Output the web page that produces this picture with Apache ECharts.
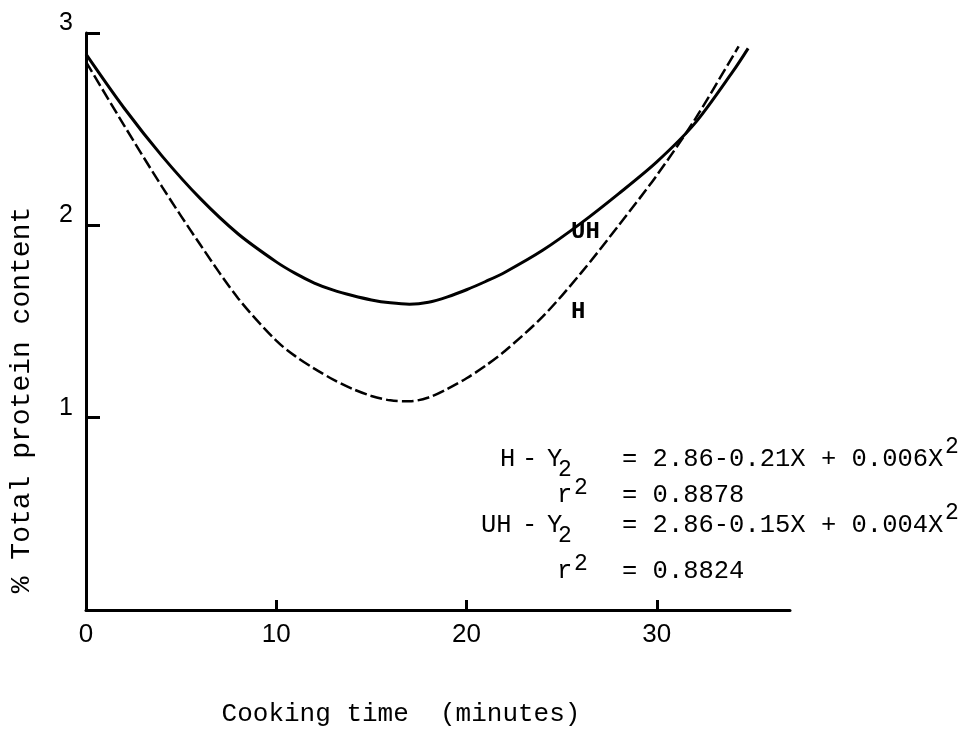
<!DOCTYPE html>
<html>
<head>
<meta charset="utf-8">
<script src="https://cdn.jsdelivr.net/npm/echarts@6/dist/echarts.min.js"></script>
<style>
html,body{margin:0;padding:0;background:#fff;}
#chart{width:974px;height:745px;}
</style>
</head>
<body>
<div id="chart"></div>
<script>
// Cooking time (minutes) and % total protein content
var timeUH = [0, 2, 4, 6, 8, 10, 11, 12, 13, 14, 15, 16, 17, 18, 19, 20, 21, 22, 24, 26, 28, 30, 32, 34, 34.8];
var valUH  = [2.89, 2.61, 2.36, 2.14, 1.955, 1.81, 1.75, 1.70, 1.663, 1.635, 1.612, 1.597, 1.59, 1.60, 1.628, 1.665, 1.708, 1.755, 1.87, 2.01, 2.165, 2.33, 2.53, 2.80, 2.92];
var timeH  = [0, 2, 4, 6, 8, 10, 11, 12, 13, 14, 15, 16, 17, 18, 19, 20, 21, 22, 24, 26, 28, 30, 32, 34, 34.3];
var valH   = [2.85, 2.52, 2.20, 1.90, 1.62, 1.40, 1.32, 1.255, 1.198, 1.15, 1.113, 1.09, 1.085, 1.105, 1.15, 1.205, 1.27, 1.345, 1.525, 1.75, 2.00, 2.26, 2.55, 2.88, 2.93];

var xTicks = [10, 20, 30];
var xLabels = [0, 10, 20, 30];
var yTicks = [1, 2, 3];
var yLabels = [1, 2, 3];

var curveNames = ['UH', 'H'];
var xTitle = 'Cooking time  (minutes)';
var yTitle = '% Total protein content';
var eqLines = [
  {pre: ['H', '-', 'Y'], rhs: '= 2.86-0.21X + 0.006X'},
  {r: '0.8878'},
  {pre: ['UH', '-', 'Y'], rhs: '= 2.86-0.15X + 0.004X'},
  {r: '0.8824'}
];

function pairs(xs, ys) { return xs.map(function (x, i) { return [x, ys[i]]; }); }

var chart = echarts.init(document.getElementById('chart'), null, {renderer: 'canvas'});
var mono = 'Liberation Mono, DejaVu Sans Mono, monospace';
var F = function (size, bold) { return (bold ? 'bold ' : '') + size + 'px ' + mono; };
var ink = '#000';

function txt(t, x, y, size, opts) {
  opts = opts || {};
  return {
    type: 'text', silent: true,
    x: x, y: y, rotation: opts.rotation || 0,
    style: {
      text: t, font: F(size, opts.bold), fill: ink,
      textAlign: opts.align || 'left', textVerticalAlign: 'middle'
    }
  };
}

var graphics = [];
graphics.push(txt(yTitle, 22, 400, 28, {align: 'center', rotation: Math.PI / 2}));
graphics.push(txt(xTitle, 401, 714, 26, {align: 'center'}));
graphics.push(txt(curveNames[0], 571, 232, 24, {bold: true}));
graphics.push(txt(curveNames[1], 571, 312, 24, {bold: true}));

// equation block
var lineY = [459, 495, 525, 571];
eqLines.forEach(function (ln, i) {
  var cy = lineY[i];
  if (ln.pre) {
    var px = ln.pre[0].length === 1 ? 500 : 481;
    graphics.push(txt(ln.pre[0], px, cy, 25.5));
    graphics.push(txt(ln.pre[1], 522, cy, 25.5));
    graphics.push(txt(ln.pre[2], 547, cy, 25.5));
    graphics.push(txt('2', 558, cy + 11, 23));
    graphics.push(txt(ln.rhs, 622, cy, 25.5));
    graphics.push(txt('2', 945, cy - 12, 23));
  } else {
    graphics.push(txt('r', 557, cy, 25.5));
    graphics.push(txt('2', 574, cy - 7, 23));
    graphics.push(txt('= ' + ln.r, 622, cy, 25.5));
  }
});

var option = {
  backgroundColor: '#fff',
  animation: false,
  grid: {left: 86, right: 184, top: 33, bottom: 135, containLabel: false},
  xAxis: {
    type: 'value', min: 0, max: 37, interval: 10,
    axisLine: {show: true, onZero: false, lineStyle: {color: ink, width: 3}},
    axisTick: {show: true, inside: true, length: 10, lineStyle: {color: ink, width: 3}, customValues: xTicks},
    axisLabel: {show: true, margin: 12, color: ink, fontFamily: 'Liberation Sans, Arial, sans-serif', fontSize: 26, customValues: xLabels},
    splitLine: {show: false}
  },
  yAxis: {
    type: 'value', min: 0, max: 3, interval: 1,
    axisLine: {show: true, onZero: false, lineStyle: {color: ink, width: 3}},
    axisTick: {show: true, inside: true, length: 14, lineStyle: {color: ink, width: 3}, customValues: yTicks},
    axisLabel: {show: true, margin: 13, color: ink, fontFamily: 'Liberation Sans, Arial, sans-serif', fontSize: 25,
      customValues: yLabels, verticalAlign: 'bottom', lineHeight: 20},
    splitLine: {show: false}
  },
  series: [
    {
      name: curveNames[0], type: 'line', data: pairs(timeUH, valUH),
      smooth: 0.3, symbol: 'none', clip: false,
      lineStyle: {color: ink, width: 3, type: 'solid'}
    },
    {
      name: curveNames[1], type: 'line', data: pairs(timeH, valH),
      smooth: 0.3, symbol: 'none', clip: false,
      lineStyle: {color: ink, width: 2.5, type: [12, 4]}
    }
  ],
  graphic: graphics
};
chart.setOption(option);
</script>
</body>
</html>
